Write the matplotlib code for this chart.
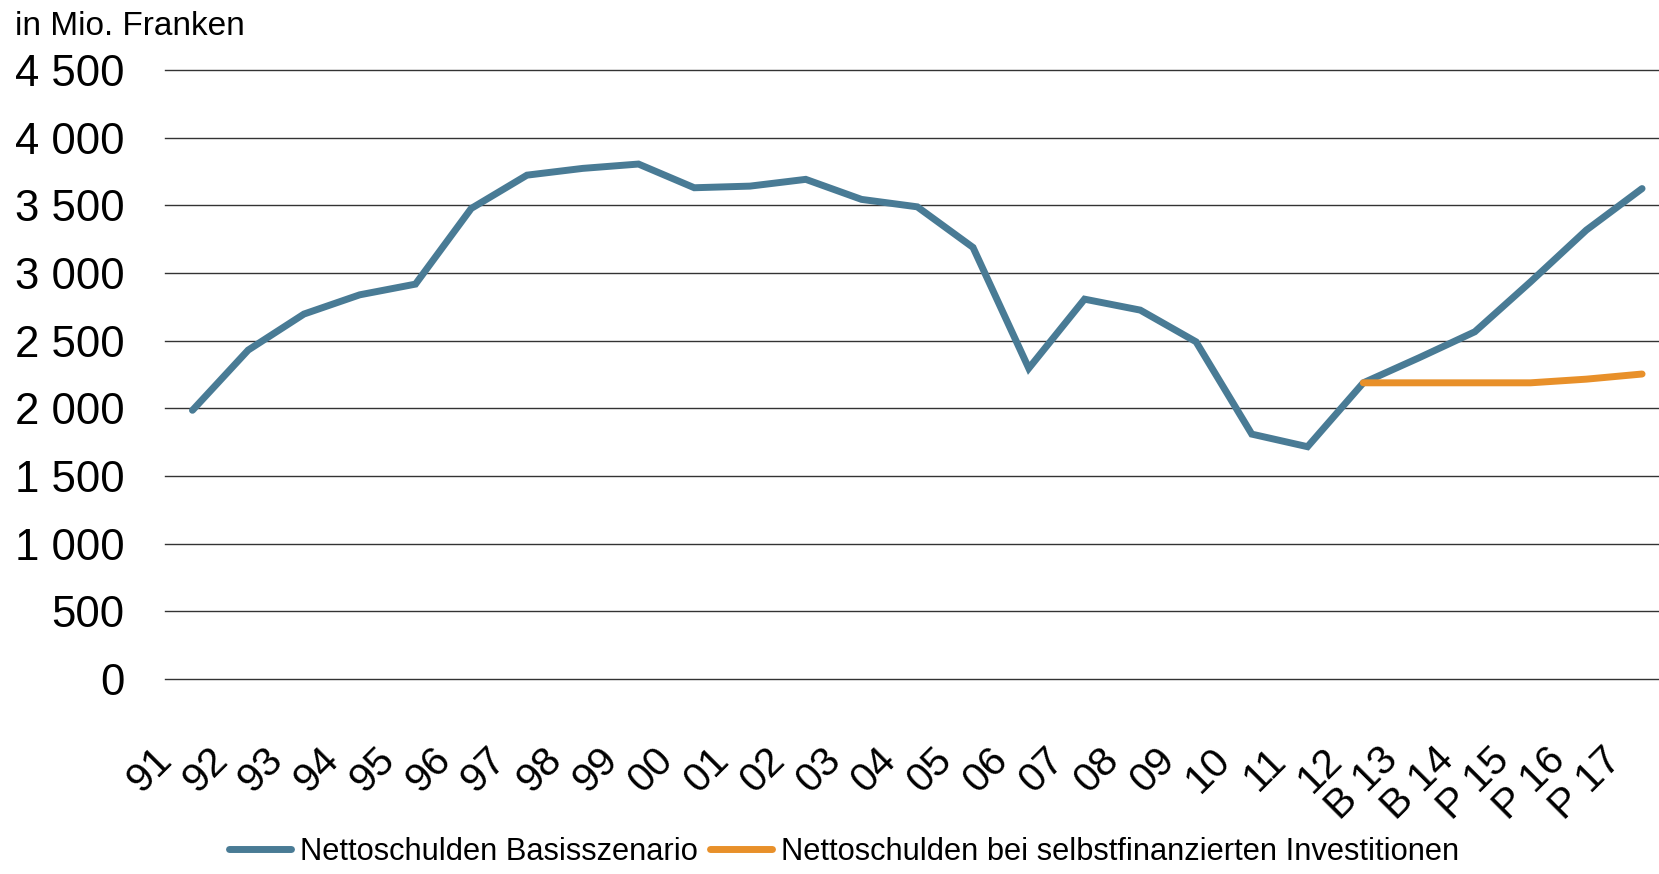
import matplotlib
matplotlib.use("Agg")
import matplotlib.pyplot as plt
from matplotlib.transforms import ScaledTranslation

plt.rcParams['font.family'] = ['Liberation Sans', 'DejaVu Sans']

# Jahre / Kategorien
jahre = ['91', '92', '93', '94', '95', '96', '97', '98', '99', '00', '01', '02',
         '03', '04', '05', '06', '07', '08', '09', '10', '11', '12',
         'B 13', 'B 14', 'P 15', 'P 16', 'P 17']

# Nettoschulden Basisszenario (Mio. Franken)
basis = [1985, 2430, 2696, 2838, 2917, 3476, 3722, 3772, 3804, 3629, 3641, 3691,
         3543, 3488, 3188, 2295, 2806, 2725, 2491, 1809, 1716, 2188,
         2373, 2565, 2934, 3316, 3623]

# Nettoschulden bei selbstfinanzierten Investitionen (ab 12)
selbst_jahre = ['12', 'B 13', 'B 14', 'P 15', 'P 16', 'P 17']
selbst = [2188, 2188, 2188, 2188, 2215, 2253]

yticks = [0, 500, 1000, 1500, 2000, 2500, 3000, 3500, 4000, 4500]

blau = '#497b95'
orange = '#e8902a'

fig = plt.figure(figsize=(16.59, 8.74), dpi=100)
ax = fig.add_axes([0.0992, 0.2231, 0.9074, 0.6970])

x = list(range(len(jahre)))
x_selbst = [jahre.index(j) for j in selbst_jahre]

ax.plot(x, basis, color=blau, lw=5, solid_capstyle='round',
        solid_joinstyle='miter', label='Nettoschulden Basisszenario')
ax.plot(x_selbst, selbst, color=orange, lw=5, solid_capstyle='round',
        label='Nettoschulden bei selbstfinanzierten Investitionen')

ax.set_xlim(-0.5, len(jahre) - 0.5)
ax.set_ylim(0, 4500)
ax.set_yticks(yticks)
ax.set_yticklabels([f'{v:,}'.replace(',', ' ') for v in yticks], fontsize=31.5)
ax.yaxis.grid(True, color='#333333', lw=1.0)
for gl in ax.get_ygridlines():
    gl.set_clip_on(False)
ax.set_axisbelow(True)
for s in ax.spines.values():
    s.set_visible(False)
ax.tick_params(axis='y', length=0, pad=29)
ax.tick_params(axis='x', length=0, pad=54)

ax.set_xticks(x)
ax.set_xticklabels(jahre, fontsize=29.5, rotation=45, ha='right', va='center',
                   rotation_mode='anchor')
off = ScaledTranslation(-0.27, 0, fig.dpi_scale_trans)
for lab in ax.get_xticklabels():
    lab.set_transform(lab.get_transform() + off)

fig.text(0.009, 1 - 35 / 874, 'in Mio. Franken', fontsize=24, va='baseline')

fig.legend(loc='center', bbox_to_anchor=(0.509, 0.025), ncol=2, frameon=False,
           fontsize=22.2, handlelength=2.0, handletextpad=0.3,
           columnspacing=0.4)

fig.savefig('out.png', dpi=100)
